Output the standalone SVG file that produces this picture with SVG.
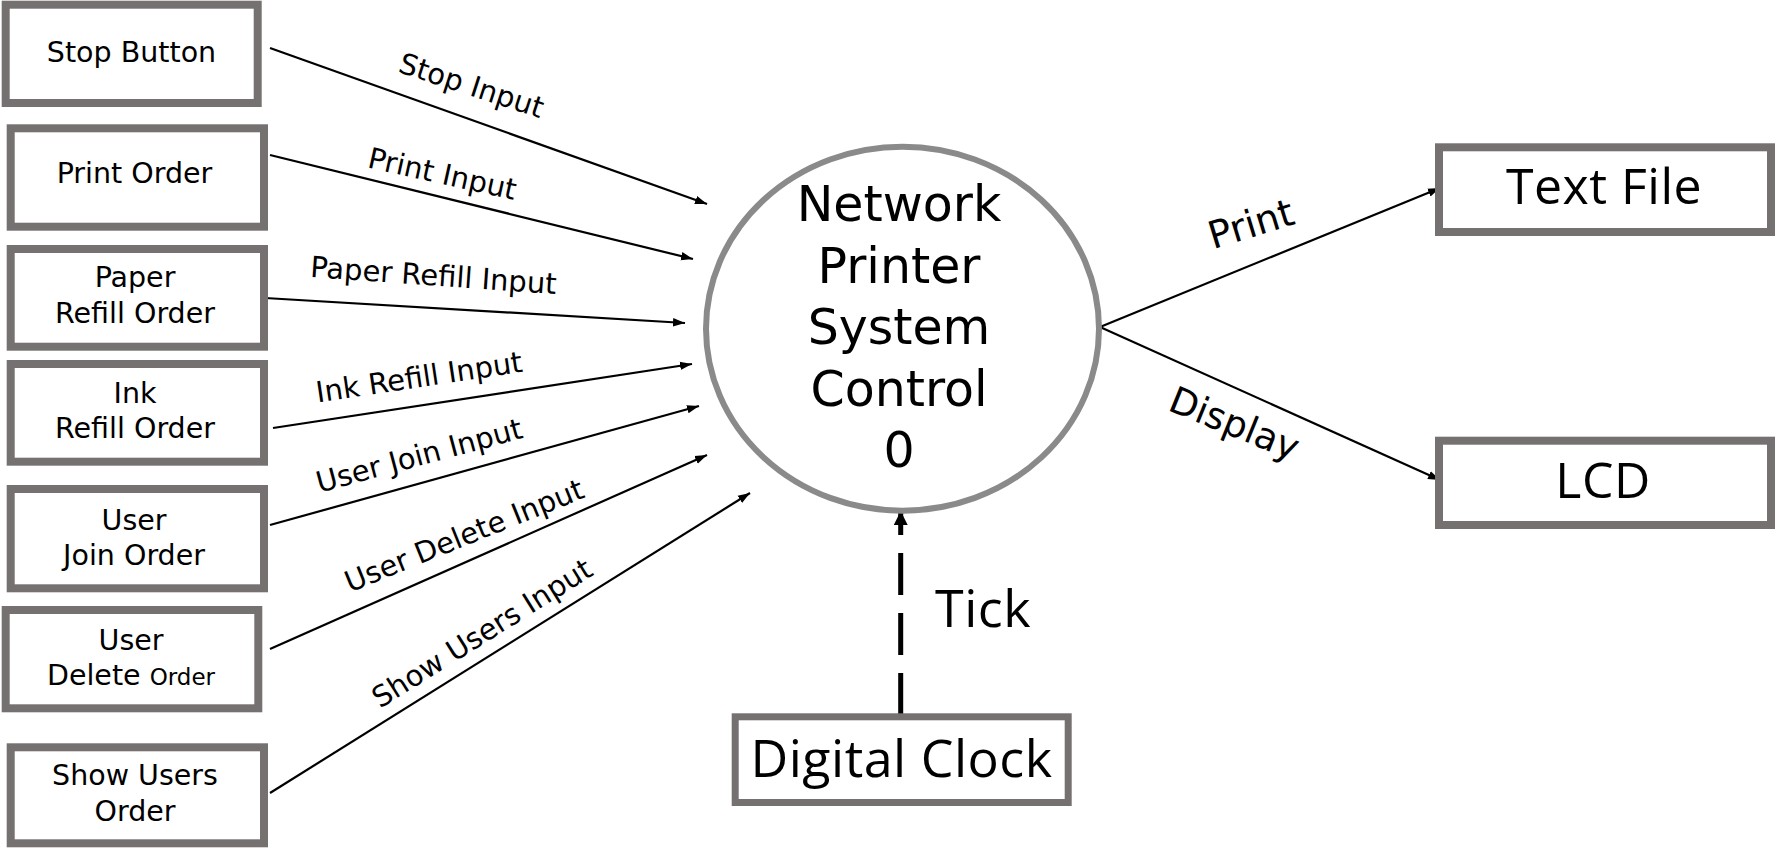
<svg xmlns="http://www.w3.org/2000/svg" width="1776" height="848" viewBox="0 0 1776 848">
<defs>
<marker id="ah" markerUnits="userSpaceOnUse" markerWidth="14" markerHeight="10" refX="12" refY="5" orient="auto">
<path d="M0,0.8 L12,5 L0,9.2 Z" fill="#000"/>
</marker>
<marker id="ahb" markerUnits="userSpaceOnUse" markerWidth="16" markerHeight="16" refX="14" refY="7" orient="auto">
<path d="M0,0 L14,7 L0,14 Z" fill="#000"/>
</marker>
<style>
.box{fill:#fff;stroke:#767171;stroke-width:8}
.nt{font-family:"DejaVu Sans","Verdana",sans-serif;font-size:28.5px;fill:#000;text-anchor:middle}
.ct{font-family:"DejaVu Sans","Verdana",sans-serif;font-size:49px;fill:#000;text-anchor:middle}
.big{font-family:"Open Sans","Noto Sans","DejaVu Sans",sans-serif;font-size:50px;letter-spacing:0.5px;fill:#000;text-anchor:middle}
.lbl{font-family:"DejaVu Sans","Verdana",sans-serif;font-size:29px;fill:#000;text-anchor:middle}
.ln{stroke:#000;stroke-width:2.2;fill:none;marker-end:url(#ah)}
</style>
</defs>
<rect width="1776" height="848" fill="#fff"/>

<g id="connectors">
<line class="ln" x1="270" y1="48" x2="707" y2="204"/>
<line class="ln" x1="270" y1="155" x2="693" y2="259"/>
<line class="ln" x1="265" y1="298" x2="685" y2="323"/>
<line class="ln" x1="273" y1="428" x2="692" y2="364"/>
<line class="ln" x1="270" y1="525" x2="699" y2="406"/>
<line class="ln" x1="270" y1="649" x2="707" y2="455"/>
<line class="ln" x1="270" y1="793" x2="750" y2="493"/>
<line class="ln" x1="1100" y1="327" x2="1440" y2="188"/>
<line class="ln" x1="1100" y1="327" x2="1440" y2="480"/>
<line x1="900.7" y1="715" x2="900.7" y2="511" stroke="#000" stroke-width="5" stroke-dasharray="42 18" marker-end="url(#ahb)"/>
<g id="labels">
<text class="lbl" transform="translate(471.7,85) rotate(18)" y="10.5">Stop Input</text>
<text class="lbl" transform="translate(442.5,173.3) rotate(12.5)" y="10.5">Print Input</text>
<text class="lbl" transform="translate(433.5,275) rotate(4)" y="10.5">Paper Refill Input</text>
<text class="lbl" transform="translate(419,376.7) rotate(-8.5)" y="10.5">Ink Refill Input</text>
<text class="lbl" transform="translate(419,455) rotate(-15)" y="10.5">User Join Input</text>
<text class="lbl" transform="translate(464,535) rotate(-22)" y="10.5">User Delete Input</text>
<text class="lbl" transform="translate(481.7,632.7) rotate(-32)" y="10.5">Show Users Input</text>
<text class="lbl" style="font-size:38px" transform="translate(1251,224) rotate(-17)" y="13">Print</text>
<text class="lbl" style="font-size:37px" transform="translate(1233,427) rotate(22)" y="9">Display</text>
<text class="big" x="935" y="627" style="text-anchor:start;font-size:52px">Tick</text>
</g>
</g>

<g id="stop-button">
<rect class="box" x="5.7" y="4.7" width="252" height="98.3"/>
<text class="nt" x="131.5" y="62">Stop Button</text>
</g>
<g id="print-order">
<rect class="box" x="10.7" y="128.3" width="253.3" height="98.4"/>
<text class="nt" x="134.5" y="183">Print Order</text>
</g>
<g id="paper-refill-order">
<rect class="box" x="10.7" y="249" width="253.3" height="97.7"/>
<text class="nt" x="135" y="287">Paper</text>
<text class="nt" x="135" y="323">Refill Order</text>
</g>
<g id="ink-refill-order">
<rect class="box" x="10.7" y="364" width="253.3" height="97.7"/>
<text class="nt" x="135" y="403">Ink</text>
<text class="nt" x="135" y="438">Refill Order</text>
</g>
<g id="user-join-order">
<rect class="box" x="10.7" y="489" width="253.3" height="99.3"/>
<text class="nt" x="134" y="530">User</text>
<text class="nt" x="134" y="565">Join Order</text>
</g>
<g id="user-delete-order">
<rect class="box" x="5.7" y="610" width="252.6" height="98.3"/>
<text class="nt" x="131" y="650">User</text>
<text class="nt" x="131" y="685">Delete <tspan style="font-size:23px">Order</tspan></text>
</g>
<g id="show-users-order">
<rect class="box" x="10.7" y="747.3" width="253.3" height="96"/>
<text class="nt" x="135" y="785">Show Users</text>
<text class="nt" x="135" y="821">Order</text>
</g>

<g id="system">
<ellipse cx="902.5" cy="328.7" rx="196.5" ry="182" fill="#fff" stroke="#8a8a8a" stroke-width="6"/>
<text class="ct" x="899" y="221">Network</text>
<text class="ct" x="899" y="283">Printer</text>
<text class="ct" x="899" y="344">System</text>
<text class="ct" x="899" y="406">Control</text>
<text class="ct" x="899" y="467">0</text>
</g>

<g id="text-file">
<rect class="box" x="1439" y="147.3" width="332" height="84.7"/>
<text class="big" x="1604" y="204">Text File</text>
</g>
<g id="lcd">
<rect class="box" x="1439" y="440.7" width="332" height="84.3"/>
<text class="big" x="1603" y="498">LCD</text>
</g>
<g id="digital-clock">
<rect class="box" x="735.2" y="716.8" width="333" height="85.7" style="stroke-width:7"/>
<text class="big" x="901.5" y="777" style="font-size:52px">Digital Clock</text>
</g>
</svg>
